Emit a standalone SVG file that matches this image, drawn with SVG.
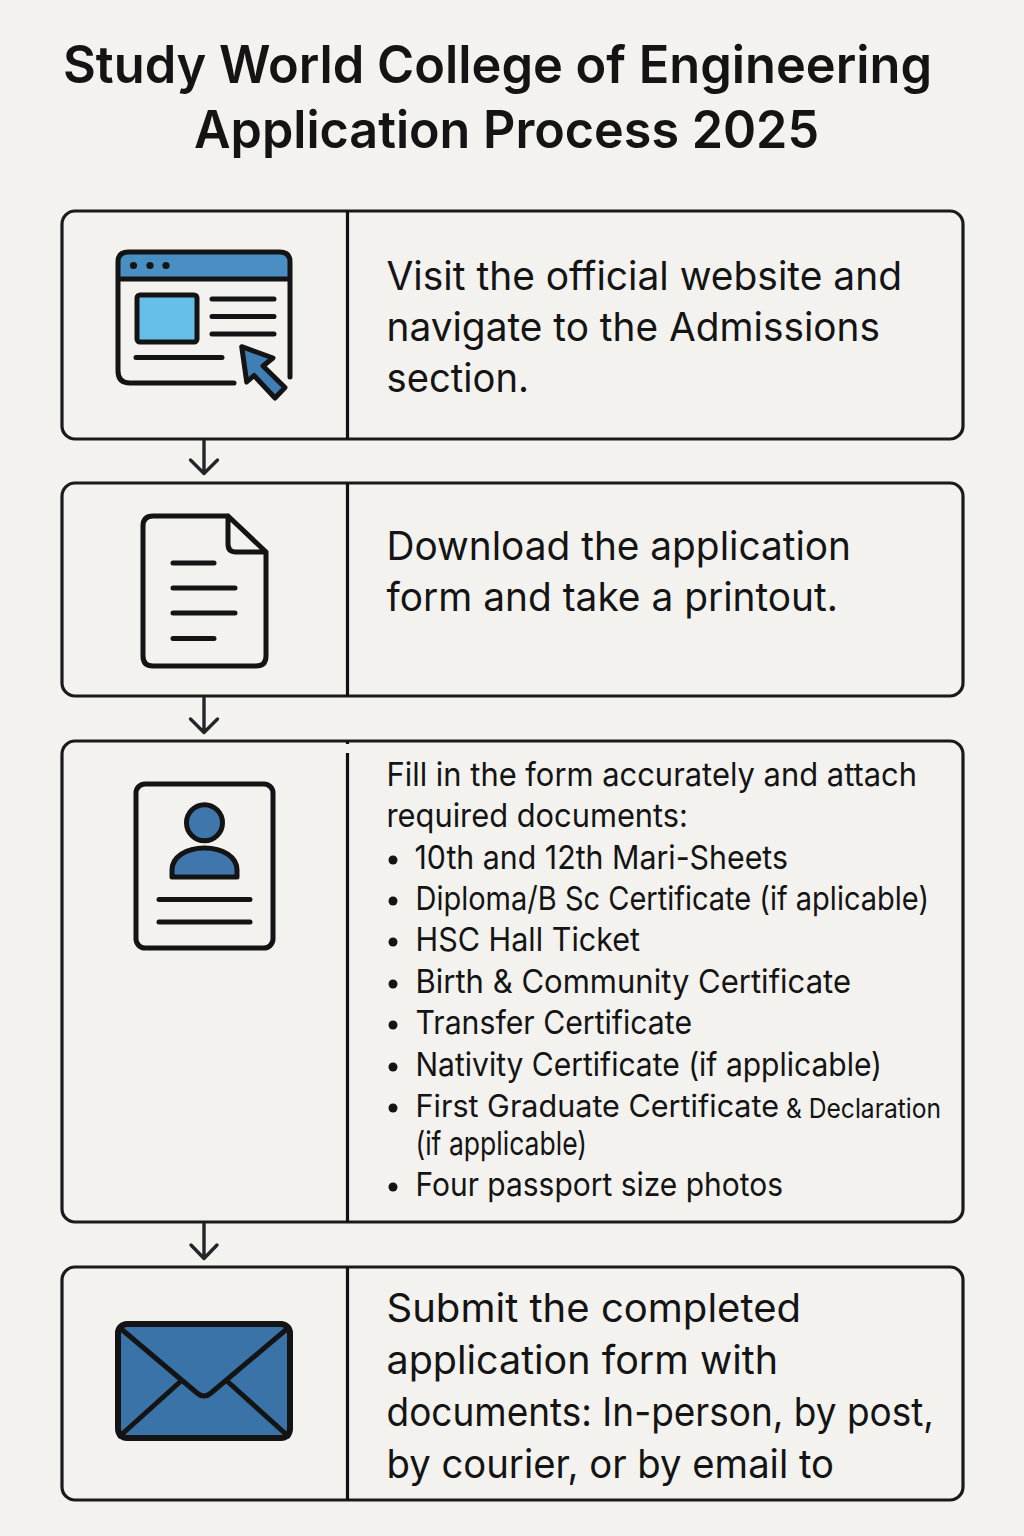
<svg xmlns="http://www.w3.org/2000/svg" width="1024" height="1536" viewBox="0 0 1024 1536">
<style>
text{font-family:"Inter","Noto Sans","Liberation Sans",sans-serif;fill:#141414}
.t{font-size:51.500px;font-weight:600}
.b{font-size:39.500px}
.s{font-size:33px}
.box{fill:#f3f2ef;stroke:#1a1a1a;stroke-width:3.200}
.div{stroke:#111;stroke-width:3.200;fill:none}
.arrow{stroke:#22262a;stroke-width:3.400;fill:none;stroke-linecap:round;stroke-linejoin:round}
.ic{stroke:#141414;stroke-width:5;fill:none;stroke-linecap:round;stroke-linejoin:round}
</style>
<rect width="1024" height="1536" fill="#f3f2ef"/>
<g id="title">
<text class="t" x="63" y="83" textLength="869" lengthAdjust="spacingAndGlyphs">Study World College of Engineering</text>
<text class="t" x="194" y="148" textLength="625" lengthAdjust="spacingAndGlyphs">Application Process 2025</text>
</g>
<g id="connectors">
<path class="arrow" d="M204 441V473.500M190.500 460L204 473.500L217.500 460"/>
<path class="arrow" d="M204 698V732.500M190.500 719L204 732.500L217.500 719"/>
<path class="arrow" d="M204 1224V1258.500M191 1245L204 1258.500L217 1245"/>
</g>
<g id="step1">
<rect class="box" x="62" y="211" width="901" height="228" rx="13"/>
<path class="div" d="M347.500 211V439"/>
<path d="M118 279V262Q118 252 128 252H280Q290 252 290 262V279Z" fill="#4a8fc4"/>
<path class="ic" d="M234 383H130Q118 383 118 371V262Q118 252 128 252H280Q290 252 290 262V377M118 279H290"/>
<circle cx="133.500" cy="265.500" r="3.600" fill="#141414"/><circle cx="150" cy="265.500" r="3.600" fill="#141414"/><circle cx="166" cy="265.500" r="3.600" fill="#141414"/>
<rect class="ic" x="137" y="295" width="60" height="47" rx="3" style="fill:#66bfe8"/>
<path class="ic" d="M212 299H274M212 316.500H274M212 334H274M136 357.500H222"/>
<path class="ic" d="M241.700 346.700L273 358L263 366L285 387.500L275 398L254 375.500L246.700 382Z" style="fill:#3f7fb5"/>
<text class="b" x="386.500" y="290" textLength="515.500" lengthAdjust="spacingAndGlyphs">Visit the official website and</text>
<text class="b" x="386.500" y="341" textLength="493.500" lengthAdjust="spacingAndGlyphs">navigate to the Admissions</text>
<text class="b" x="386.500" y="392" textLength="142.500" lengthAdjust="spacingAndGlyphs">section.</text>
</g>
<g id="step2">
<rect class="box" x="62" y="483" width="901" height="213" rx="13"/>
<path class="div" d="M347.500 483V696"/>
<path class="ic" d="M228 516H153Q143 516 143 526V656Q143 666 153 666H256Q266 666 266 656V552L228 516V544Q228 552 236 552H266"/>
<path class="ic" d="M173 563H214M173 588H235M173 613H235M173 638.500H214"/>
<text class="b" x="386.500" y="560" textLength="464.500" lengthAdjust="spacingAndGlyphs">Download the application</text>
<text class="b" x="386.500" y="611" textLength="451.500" lengthAdjust="spacingAndGlyphs">form and take a printout.</text>
</g>
<g id="step3">
<rect class="box" x="62" y="741" width="901" height="481" rx="13"/>
<path class="div" d="M347.500 741V744M347.500 753V1222"/>
<rect class="ic" x="136" y="784" width="137" height="164" rx="9"/>
<circle class="ic" cx="204.500" cy="822.700" r="18" style="fill:#3f77ad"/>
<path class="ic" d="M172 877V870C172 857 186 848 204.500 848C223 848 237 857 237 870V877Z" style="fill:#3f77ad"/>
<path class="ic" d="M159 899.500H250M159 922H250"/>
<text class="s" x="386.500" y="786" textLength="530.500" lengthAdjust="spacingAndGlyphs">Fill in the form accurately and attach</text>
<text class="s" x="386.500" y="827" textLength="301.500" lengthAdjust="spacingAndGlyphs">required documents:</text>
<g fill="#141414">
<circle cx="393" cy="860" r="4.500"/><circle cx="393" cy="901" r="4.500"/><circle cx="393" cy="942" r="4.500"/><circle cx="393" cy="984" r="4.500"/><circle cx="393" cy="1025" r="4.500"/><circle cx="393" cy="1067" r="4.500"/><circle cx="393" cy="1108" r="4.500"/><circle cx="393" cy="1187" r="4.500"/>
</g>
<text class="s" x="414.500" y="869" textLength="373.500" lengthAdjust="spacingAndGlyphs">10th and 12th Mari-Sheets</text>
<text class="s" x="415.500" y="910" textLength="513.500" lengthAdjust="spacingAndGlyphs">Diploma/B Sc Certificate (if aplicable)</text>
<text class="s" x="415.500" y="951" textLength="224.500" lengthAdjust="spacingAndGlyphs">HSC Hall Ticket</text>
<text class="s" x="415.500" y="993" textLength="435.500" lengthAdjust="spacingAndGlyphs">Birth &amp; Community Certificate</text>
<text class="s" x="415.500" y="1034" textLength="276.500" lengthAdjust="spacingAndGlyphs">Transfer Certificate</text>
<text class="s" x="415.500" y="1076" textLength="466.500" lengthAdjust="spacingAndGlyphs">Nativity Certificate (if applicable)</text>
<text x="415.500" y="1117" font-size="31" textLength="363.500" lengthAdjust="spacingAndGlyphs">First Graduate Certificate</text>
<text x="786" y="1118" font-size="27" textLength="155" lengthAdjust="spacingAndGlyphs">&amp; Declaration</text>
<text class="s" x="415.500" y="1155" textLength="171.500" lengthAdjust="spacingAndGlyphs">(if applicable)</text>
<text class="s" x="415.500" y="1196" textLength="367.500" lengthAdjust="spacingAndGlyphs">Four passport size photos</text>
</g>
<g id="step4">
<rect class="box" x="62" y="1267" width="901" height="233" rx="13"/>
<path class="div" d="M347.500 1267V1500"/>
<rect x="118" y="1324" width="172" height="114" rx="9" fill="#3a73a8" stroke="#141414" stroke-width="6"/>
<path class="ic" d="M120 1328L197 1393Q204 1399 211 1393L288 1328M120 1436L181 1381M288 1436L227 1381"/>
<text class="b" x="386.500" y="1322" textLength="414.500" lengthAdjust="spacingAndGlyphs">Submit the completed</text>
<text class="b" x="386.500" y="1374" textLength="391.500" lengthAdjust="spacingAndGlyphs">application form with</text>
<text class="b" x="386.500" y="1426" textLength="547.500" lengthAdjust="spacingAndGlyphs">documents: In-person, by post,</text>
<text class="b" x="386.500" y="1478" textLength="447.500" lengthAdjust="spacingAndGlyphs">by courier, or by email to</text>
</g>
</svg>
